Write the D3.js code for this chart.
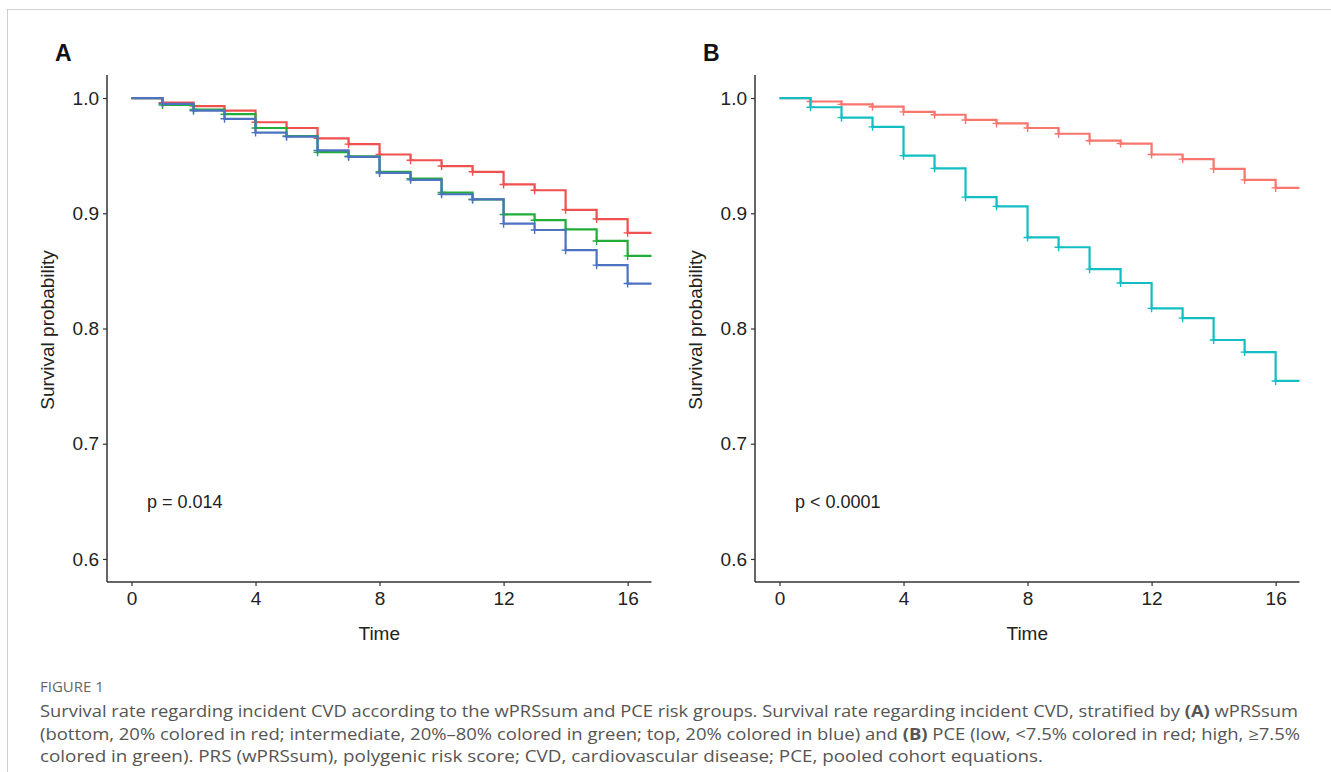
<!DOCTYPE html>
<html>
<head>
<meta charset="utf-8">
<script src="https://cdn.jsdelivr.net/npm/d3@7"></script>
<style>
  body { margin: 0; background: #fff; }
  svg { display: block; }
</style>
</head>
<body>
<svg id="chart" width="1331" height="772"></svg>
<script>
// follow-up times (years) where the curves step
var times = [0, 1, 2, 3, 4, 5, 6, 7, 8, 9, 10, 11, 12, 13, 14, 15, 16];
var endTime = 16.77;

// panel A: wPRSsum groups
var aBottom = [1, 0.996, 0.993, 0.989, 0.979, 0.974, 0.965, 0.960, 0.951, 0.946, 0.941, 0.936, 0.925, 0.920, 0.903, 0.895, 0.883];
var aInter  = [1, 0.994, 0.990, 0.986, 0.974, 0.967, 0.953, 0.9495, 0.936, 0.930, 0.918, 0.912, 0.899, 0.894, 0.886, 0.876, 0.863];
var aTop    = [1, 0.995, 0.989, 0.982, 0.970, 0.9665, 0.9546, 0.949, 0.935, 0.929, 0.9165, 0.912, 0.891, 0.8855, 0.868, 0.855, 0.839];

// panel B: PCE groups
var bLow  = [1, 0.997, 0.9945, 0.9925, 0.988, 0.9855, 0.981, 0.978, 0.974, 0.969, 0.963, 0.9605, 0.951, 0.947, 0.9385, 0.929, 0.922];
var bHigh = [1, 0.992, 0.983, 0.975, 0.950, 0.939, 0.914, 0.906, 0.879, 0.8705, 0.8515, 0.8395, 0.8175, 0.809, 0.790, 0.7795, 0.7545];

var xTicks = [0, 4, 8, 12, 16];
var yTicks = [0.6, 0.7, 0.8, 0.9, 1.0];

var svg = d3.select("#chart");
var font = "'Liberation Sans', Arial, sans-serif";

// card frame
svg.append("rect")
	.attr("x", 7.5).attr("y", 9.5)
	.attr("width", 1400).attr("height", 900)
	.attr("fill", "none")
	.attr("stroke", "#cfcfcf")
	.attr("stroke-width", 1);

function drawPanel(opts){
	var x = d3.scaleLinear().domain([-0.79, endTime]).range([opts.left, opts.left + 544.5]),
		y = d3.scaleLinear().domain([0.58, 1.02]).range([582, 75]);

	var g = svg.append("g");

	g.append("text")
		.attr("x", opts.left - 52).attr("y", 61)
		.attr("font-family", font).attr("font-weight", "bold")
		.attr("font-size", 23).attr("fill", "#111")
		.text(opts.letter);

	var yAxis = g.append("g")
		.attr("transform", "translate(" + opts.left + ",0)")
		.call(d3.axisLeft(y).tickValues(yTicks).tickFormat(d3.format(".1f")).tickSize(4).tickPadding(4));
	var xAxis = g.append("g")
		.attr("transform", "translate(0,582)")
		.call(d3.axisBottom(x).tickValues(xTicks).tickSize(4).tickPadding(6));
	[yAxis, xAxis].forEach(function(ax){
		ax.select(".domain").attr("stroke", "#333").attr("stroke-width", 1.5);
		ax.selectAll(".tick line").attr("stroke", "#333").attr("stroke-width", 1.2);
		ax.selectAll(".tick text")
			.attr("font-family", font).attr("font-size", 19).attr("fill", "#222");
	});
	// domain paths without end caps
	yAxis.select(".domain").attr("d", "M0," + y.range()[0] + "V" + y.range()[1]);
	xAxis.select(".domain").attr("d", "M" + x.range()[0] + ",0H" + x.range()[1]);

	g.append("text")
		.attr("x", (x.range()[0] + x.range()[1]) / 2).attr("y", 640)
		.attr("text-anchor", "middle")
		.attr("font-family", font).attr("font-size", 19).attr("fill", "#222")
		.text("Time");
	g.append("text")
		.attr("transform", "translate(" + (opts.left - 53) + ",330) rotate(-90)")
		.attr("text-anchor", "middle")
		.attr("font-family", font).attr("font-size", 19).attr("fill", "#222")
		.text("Survival probability");

	g.append("text")
		.attr("x", x(0.5)).attr("y", 508)
		.attr("font-family", font).attr("font-size", 18).attr("fill", "#222")
		.text(opts.pText);

	var line = d3.line()
		.curve(d3.curveStepAfter)
		.x(function(d){ return x(d[0]); })
		.y(function(d){ return y(d[1]); });

	opts.series.forEach(function(s){
		var pts = times.map(function(t, i){ return [t, s.values[i]]; });
		pts.push([endTime, s.values[s.values.length - 1]]);
		g.append("path")
			.datum(pts)
			.attr("d", line)
			.attr("fill", "none")
			.attr("stroke", s.colour)
			.attr("stroke-width", 2.2);
		// censor marks
		g.selectAll(null)
			.data(pts.slice(1, times.length))
			.enter()
			.append("path")
			.attr("d", function(d){
				var px = x(d[0]), py = y(d[1]);
				return "M" + (px - 4) + "," + py + "H" + (px + 4) + "M" + px + "," + (py - 4) + "V" + (py + 4);
			})
			.attr("stroke", s.colour)
			.attr("stroke-width", 1.4)
			.attr("fill", "none");
	});
}

drawPanel({
	left: 107, letter: "A", pText: "p = 0.014",
	series: [
		{values: aBottom, colour: "#F0504E"},
		{values: aInter, colour: "#20AD38"},
		{values: aTop, colour: "#4E72C2"}
	]
});
drawPanel({
	left: 755, letter: "B", pText: "p < 0.0001",
	series: [
		{values: bLow, colour: "#F8766D"},
		{values: bHigh, colour: "#13BEC3"}
	]
});

// caption
var capFont = "'Open Sans', 'Noto Sans', sans-serif";
svg.append("text")
	.attr("x", 40).attr("y", 692)
	.attr("font-family", capFont).attr("font-size", 15)
	.attr("fill", "#666")
	.text("FIGURE 1");

var captionLines = [
	[["Survival rate regarding incident CVD according to the wPRSsum and PCE risk groups. Survival rate regarding incident CVD, stratified by ", false], ["(A)", true], [" wPRSsum", false]],
	[["(bottom, 20% colored in red; intermediate, 20%\u201380% colored in green; top, 20% colored in blue) and ", false], ["(B)", true], [" PCE (low, <7.5% colored in red; high, \u22657.5%", false]],
	[["colored in green). PRS (wPRSsum), polygenic risk score; CVD, cardiovascular disease; PCE, pooled cohort equations.", false]]
];
var lineWidths = [1258, 1260, 1003];
captionLines.forEach(function(parts, i){
	var t = svg.append("text")
		.attr("x", 40).attr("y", 717 + i * 22.5)
		.attr("font-family", capFont).attr("font-size", 16)
		.attr("fill", "#555")
		.attr("textLength", lineWidths[i])
		.attr("lengthAdjust", "spacingAndGlyphs");
	parts.forEach(function(p){
		t.append("tspan")
			.attr("font-weight", p[1] ? "bold" : null)
			.text(p[0]);
	});
});
</script>
</body>
</html>
